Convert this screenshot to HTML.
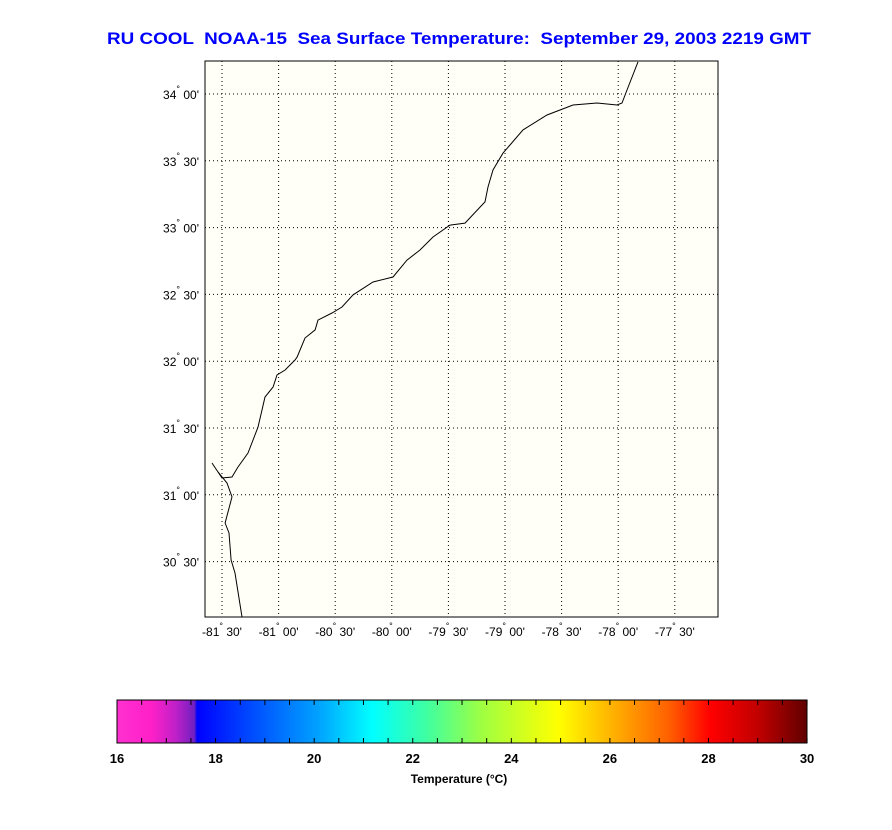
<!DOCTYPE html>
<html><head><meta charset="utf-8"><style>
body{margin:0;background:#fff;width:892px;height:825px;overflow:hidden;font-family:"Liberation Sans",sans-serif}
</style></head><body>
<svg width="892" height="825" xmlns="http://www.w3.org/2000/svg">
<defs>
<linearGradient id="cb" x1="0" x2="1" y1="0" y2="0">
<stop offset="0" stop-color="#ff30d0"/><stop offset="0.05" stop-color="#ff20c8"/>
<stop offset="0.085" stop-color="#c020c8"/><stop offset="0.112" stop-color="#7020c0"/>
<stop offset="0.116" stop-color="#0000ff"/><stop offset="0.2" stop-color="#0050ff"/>
<stop offset="0.29" stop-color="#00a0ff"/><stop offset="0.37" stop-color="#00ffff"/>
<stop offset="0.45" stop-color="#40ffa0"/><stop offset="0.53" stop-color="#a0ff40"/>
<stop offset="0.64" stop-color="#ffff00"/><stop offset="0.72" stop-color="#ffb000"/>
<stop offset="0.8" stop-color="#ff6000"/><stop offset="0.86" stop-color="#ff0000"/>
<stop offset="0.93" stop-color="#c00000"/><stop offset="1" stop-color="#600000"/>
</linearGradient>
<clipPath id="fr"><rect x="205" y="61" width="513" height="556"/></clipPath>
</defs>
<text x="107" y="44" textLength="704" lengthAdjust="spacingAndGlyphs" font-size="17" font-weight="bold" fill="#0000ff" xml:space="preserve">RU COOL  NOAA-15  Sea Surface Temperature:  September 29, 2003 2219 GMT</text>
<rect x="205" y="61" width="513" height="556" fill="#fffff8" stroke="#000"/>
<g id="grid"></g>
<path id="coast" fill="none" stroke="#000" stroke-width="1" clip-path="url(#fr)"/>
<g id="labels" font-size="12" fill="#000"></g>
<rect x="117" y="700" width="690" height="43" fill="url(#cb)" stroke="#000"/>
<g id="cbt"></g>
<text x="459" y="783" text-anchor="middle" font-size="12" font-weight="bold">Temperature (°C)</text>
</svg>
<script>
const lonTicks=[-81.5,-81,-80.5,-80,-79.5,-79,-78.5,-78,-77.5];
const latTicks=[34,33.5,33,32.5,32,31.5,31,30.5];
const cbTicks=[16,18,20,22,24,26,28,30];
const coastLon=[-81.323,-81.385,-81.420,-81.438,-81.473,-81.412,-81.456,-81.535,-81.588,-81.5,-81.412,-81.359,-81.270,-81.182,-81.147,-81.120,-81.049,-81.014,-80.943,-80.855,-80.837,-80.767,-80.678,-80.652,-80.528,-80.440,-80.343,-80.166,-79.989,-79.866,-79.751,-79.636,-79.486,-79.353,-79.177,-79.150,-79.106,-79.018,-78.841,-78.629,-78.399,-78.187,-78.011,-77.966,-77.922,-77.825];
const coastLat=[30.085,30.415,30.512,30.714,30.789,30.984,31.088,31.171,31.238,31.126,31.133,31.208,31.313,31.507,31.635,31.732,31.807,31.897,31.934,32.009,32.031,32.174,32.234,32.308,32.361,32.406,32.496,32.593,32.630,32.757,32.832,32.930,33.019,33.034,33.192,33.304,33.431,33.558,33.731,33.843,33.918,33.933,33.918,33.933,34.030,34.240];
const X=l=>222+(l+81.5)*113.2, Y=a=>94+(34-a)*133.6, C=t=>117+(t-16)*49.29;
const NS='http://www.w3.org/2000/svg';
function mk(p,t,a){const e=document.createElementNS(NS,t);for(const k in a)e.setAttribute(k,a[k]);p.appendChild(e);return e;}
const g=document.getElementById('grid'),L=document.getElementById('labels'),cb=document.getElementById('cbt');
function dm(v){const a=Math.abs(v),d=Math.floor(a),m=Math.round((a-d)*60);return [(v<0?'-':'')+d,(m<10?'0':'')+m+"'"];}
function lab(t,d,m){mk(t,'tspan',{}).textContent=d;const s=mk(t,'tspan',{dy:'-7','font-size':'9'});s.textContent='°';mk(t,'tspan',{dy:'7'}).textContent='\u00a0'+m;}
lonTicks.forEach(v=>{const x=X(v);
 const ln=mk(g,'line',{x1:x,x2:x,y1:61,y2:617,stroke:'#000','stroke-dasharray':'1,3'});
 
 const [d,m]=dm(v);const t=mk(L,'text',{x:x,y:636,'text-anchor':'middle'});
 
 lab(t,d,m);});
latTicks.forEach(v=>{const y=Y(v);
 const ln=mk(g,'line',{x1:205,x2:718,y1:y,y2:y,stroke:'#000','stroke-dasharray':'1,3'});
 
 const [d,m]=dm(v);const t=mk(L,'text',{x:199,y:y+5,'text-anchor':'end'});
 
 lab(t,d,m);});
document.getElementById('coast').setAttribute('d',coastLon.map((l,i)=>(i?'L':'M')+X(l).toFixed(1)+','+Y(coastLat[i]).toFixed(1)).join(''));
for(let t=16;t<=30.001;t+=0.5){const x=C(t);mk(cb,'line',{x1:x,x2:x,y1:700,y2:705,stroke:'#000'});mk(cb,'line',{x1:x,x2:x,y1:738,y2:743,stroke:'#000'});}
cbTicks.forEach(v=>{const t=mk(cb,'text',{x:C(v),y:763,'text-anchor':'middle','font-size':'13','font-weight':'bold'});
 t.textContent=v;});
</script>
</body></html>
